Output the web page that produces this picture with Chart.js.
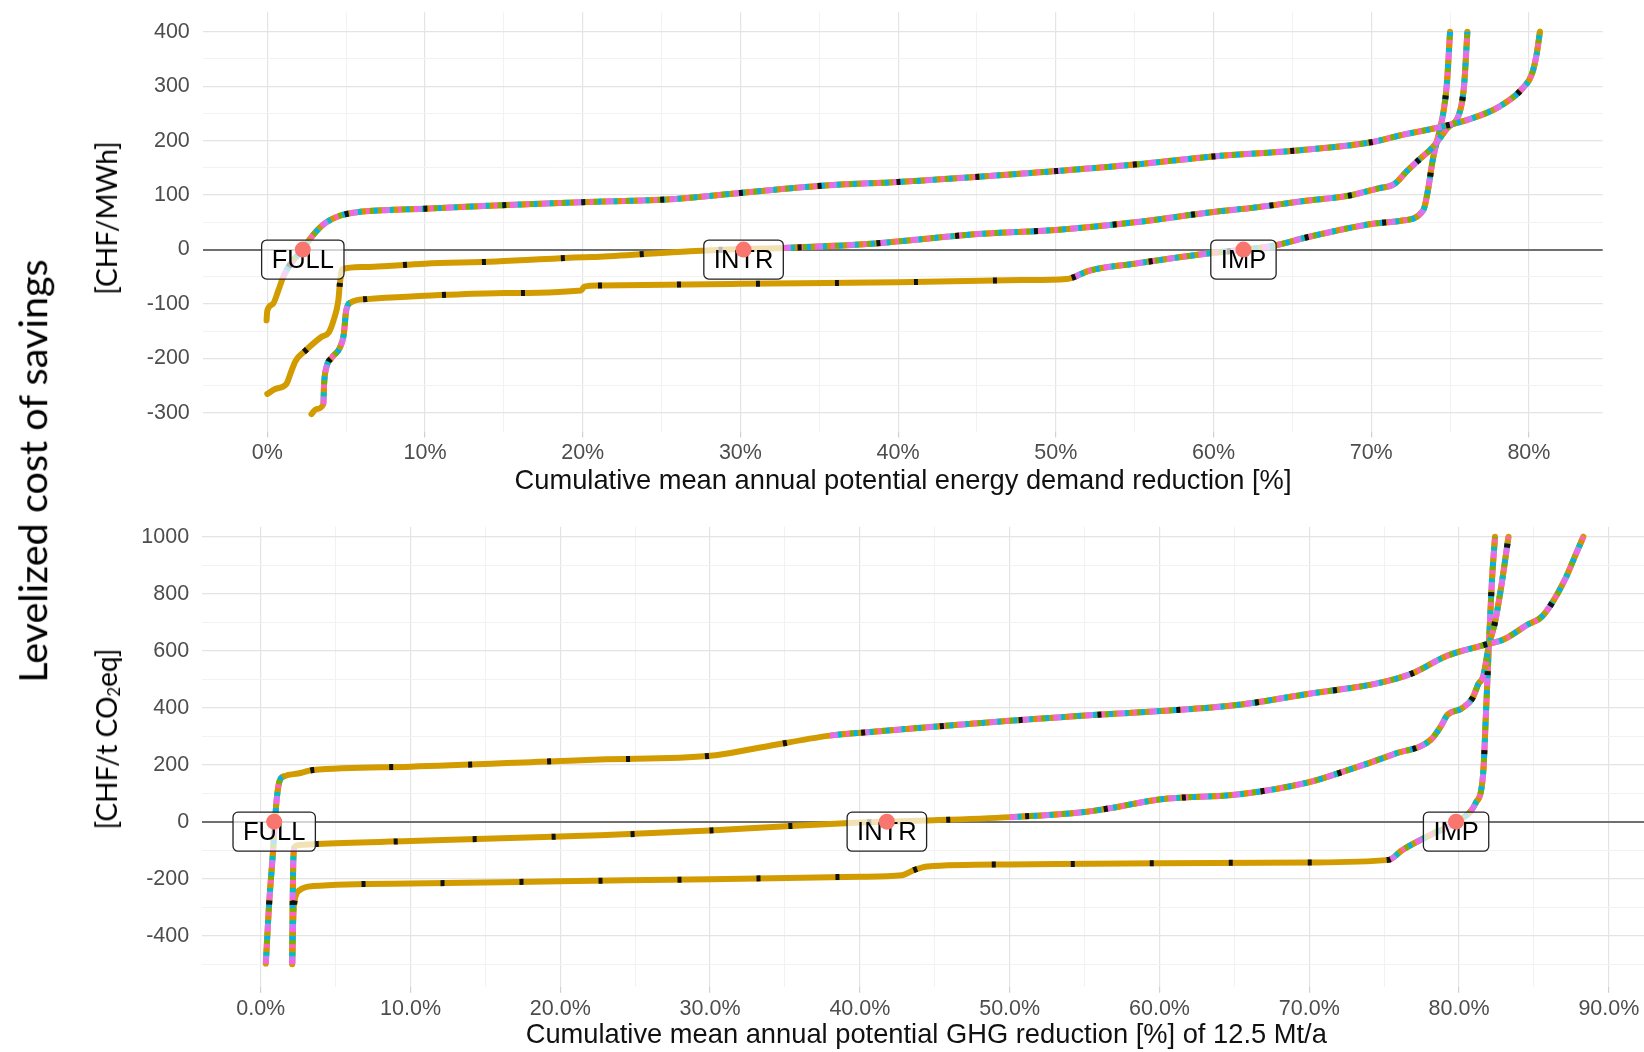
<!DOCTYPE html>
<html lang="en">
<head>
<meta charset="UTF-8">
<title>Levelized cost of savings</title>
<script src="https://cdn.jsdelivr.net/npm/chart.js"></script>
<style>
    html, body { margin: 0; padding: 0; background: #fff; }
    body { width: 1644px; height: 1052px; position: relative; overflow: hidden; }
    canvas { position: absolute; left: 0; }
    #energyChart { top: 0; }
    #ghgChart { top: 500px; }
    .vlabel {
        position: absolute; white-space: nowrap; line-height: 1; color: #000;
        font-family: Lato, "Open Sans", sans-serif;
        transform: translate(-50%, -50%) rotate(-90deg);
    }
    .vlabel sub { font-size: 60%; vertical-align: -0.2em; line-height: 0; }
</style>
</head>
<body>
<canvas id="energyChart" width="1644" height="500"></canvas>
<!-- the lower panel runs past the right edge of the figure, as in the original crop -->
<canvas id="ghgChart" width="1700" height="552"></canvas>
<div class="vlabel" style="left:32px; top:471px; font-size:39.6px;">Levelized cost of savings</div>
<div class="vlabel" style="left:106px; top:218px; font-size:28px;">[CHF/MWh]</div>
<div class="vlabel" style="left:106px; top:739px; font-size:28px;">[CHF/t CO<sub>2</sub>eq]</div>

<script>
// ---- values ----
const scenarioNames = ['FULL', 'INTR', 'IMP'];

// upper panel: x = cumulative energy demand reduction [%], y = CHF/MWh
const energyFullX = [-0.05, 0.0, 0.35, 0.7, 1.0, 1.5, 2.25, 2.8, 3.6, 4.6, 5.8, 7.3, 10, 14.5, 20, 25.9, 30, 35.6, 40, 45.3, 50, 55, 60, 65.3, 70, 71.9, 74.4, 76.3, 78.1, 79.6, 80.2, 80.5, 80.7];
const energyFullY = [-130, -112, -100, -75, -51, -25, 0, 23, 47, 62, 69, 72, 75, 81, 87, 93, 104, 118, 124, 134, 144, 156, 171, 182, 197, 210, 225, 240, 262, 296, 323, 360, 400];
const energyIntrX = [0, 0.5, 1.2, 1.5, 1.8, 2.4, 3.4, 3.9, 4.2, 4.5, 4.6, 4.75, 6, 10, 14.5, 20, 21.1, 26.8, 30, 32.7, 38, 40, 45.3, 50, 55, 60, 62.3, 66, 68.6, 70.4, 71.5, 72.2, 73, 73.9, 74.8, 75.7, 75.9, 76.1];
const energyIntrY = [-265, -256, -247, -225, -204, -186, -161, -152, -130, -94, -63, -36, -32, -26, -22, -14, -13, -3, 1, 3, 10, 15, 29, 36, 50, 69, 76, 90, 99, 112, 121, 142, 164, 188, 222, 262, 305, 400];
const energyImpX = [2.8, 3.1, 3.55, 3.6, 3.75, 4.1, 4.6, 4.85, 5.0, 5.3, 6.3, 10, 14.5, 19.9, 20.1, 21.1, 30, 40, 47.8, 50.7, 51.1, 52.1, 55, 60, 62, 63.8, 66, 70, 71.9, 73.3, 73.6, 73.9, 74.6, 74.8, 75.0];
const energyImpY = [-302, -293, -284, -247, -216, -198, -180, -155, -112, -97, -91, -85, -80, -75, -68, -66, -63, -60, -56, -54, -51, -39, -26, -6, 0, 7, 23, 47, 53, 72, 109, 164, 256, 305, 400];
const energyZeroX = [2.25, 30.2, 61.9];
const energyXTicks = [0, 10, 20, 30, 40, 50, 60, 70, 80];
const energyXLabels = ['0%', '10%', '20%', '30%', '40%', '50%', '60%', '70%', '80%'];
const energyYTicks = [-300, -200, -100, 0, 100, 200, 300, 400];
const energyYLabels = ['-300', '-200', '-100', '0', '100', '200', '300', '400'];

// lower panel: x = cumulative GHG reduction [%], y = CHF/t CO2eq
const ghgFullX = [0.34, 0.56, 0.82, 0.95, 1.07, 1.25, 1.6, 2.5, 3.5, 10, 20, 22.6, 30, 32.9, 38, 40.5, 45.6, 50, 55.8, 60, 65.3, 70, 74.6, 76.9, 79.2, 81.6, 83.0, 84.6, 85.5, 86.2, 87.1, 87.8, 88.3];
const ghgFullY = [-498, -289, -105, 0, 80, 141, 160, 169, 181, 193, 213, 218, 231, 256, 302, 314, 336, 354, 375, 388, 410, 449, 486, 521, 582, 619, 640, 692, 718, 767, 853, 939, 1000];
const ghgIntrX = [2.1, 2.13, 2.17, 2.25, 2.6, 3.8, 10, 20, 22.65, 30, 35.4, 40, 41.8, 44.3, 50, 55, 57, 60, 65.3, 70, 72.3, 75.7, 78.1, 78.8, 79.2, 80.2, 80.9, 81.3, 81.6, 82.0, 82.4, 82.8, 83.3];
const ghgIntrY = [-500, -300, -150, -90, -82, -78, -68, -52, -48, -31, -15, -3, 0, 4, 16, 34, 50, 78, 96, 139, 176, 238, 287, 336, 373, 398, 434, 484, 508, 620, 700, 820, 1000];
const ghgImpX = [2.1, 2.14, 2.2, 2.6, 3.5, 10, 20, 30, 40, 42.8, 43.6, 44.5, 50, 60, 70, 75.3, 76.2, 78.1, 80.0, 81.1, 81.6, 81.8, 82.0, 82.2, 82.4];
const ghgImpY = [-498, -400, -302, -240, -226, -217, -209, -202, -193, -188, -170, -157, -150, -146, -143, -134, -100, -46, 4, 65, 164, 385, 631, 850, 1000];
const ghgZeroX = [0.9, 41.8, 79.8];
const ghgXTicks = [0, 10, 20, 30, 40, 50, 60, 70, 80, 90];
const ghgXLabels = ['0.0%', '10.0%', '20.0%', '30.0%', '40.0%', '50.0%', '60.0%', '70.0%', '80.0%', '90.0%'];
const ghgYTicks = [-400, -200, 0, 200, 400, 600, 800, 1000];
const ghgYLabels = ['-400', '-200', '0', '200', '400', '600', '800', '1000'];

// stretches of each curve where the many-coloured measure dots dominate (the rest is mostly gold)
const energyMixed = [[[0.8, 81]], [[32.5, 77]], [[3.55, 5.3], [51, 76]]];
const ghgMixed = [[[0, 2.4], [33, 89]], [[2.1, 2.25], [48.5, 84]], [[2.1, 2.2], [75.3, 83]]];

const GOLD = '#D29B00';
const dotColors = ['#F564E3', '#B79F00', '#00B0F6', '#7CAE00', '#FF62BC', '#D89000', '#00BFC4', '#C77CFF'];
const DOT = 4;
const TICK_FONT = {family: 'Liberation Sans', size: 21.5};
const TITLE_FONT = {family: 'Liberation Sans', size: 27.3};

// major ticks plus the half-way minor grid lines (ggplot style)
function withMinor(majors, step, min, max) {
    const vals = majors.slice();
    majors.forEach(v => vals.push(v - step / 2));
    vals.push(majors[majors.length - 1] + step / 2);
    return vals.filter(v => v >= min && v <= max).sort((a, b) => a - b);
}

function labelFor(majors, labels, v) {
    const i = majors.indexOf(v);
    return i < 0 ? '' : labels[i];
}

function curveDatasets(xs, ys, mixed) {
    const pts = xs.map((x, i) => ({x: x, y: ys[i]}));
    const inMixed = c => mixed.some(r => c.p0.parsed.x >= r[0] - 1e-6 && c.p1.parsed.x <= r[1] + 1e-6);
    const base = {
        data: pts, showLine: true, pointRadius: 0, borderWidth: 6,
        cubicInterpolationMode: 'monotone', borderJoinStyle: 'round'
    };
    const sets = [Object.assign({}, base, {borderColor: GOLD, borderCapStyle: 'round', order: 3})];
    const period = DOT * dotColors.length;
    dotColors.forEach((col, k) => {
        sets.push(Object.assign({}, base, {
            borderColor: col, borderDash: [DOT, period - DOT], borderDashOffset: DOT * k, order: 2,
            segment: {borderColor: c => inMixed(c) ? col : 'rgba(0,0,0,0)'}
        }));
    });
    sets.push(Object.assign({}, base, {borderColor: '#111', borderDash: [4, 75], borderDashOffset: 20, order: 1}));
    return sets;
}

// boxed scenario labels, drawn just before the red dots so the dots sit on top
const labelBoxes = {
    id: 'labelBoxes',
    beforeDatasetDraw(chart, args) {
        const ds = chart.data.datasets[args.index];
        if (!ds.isMarker) return;
        const ctx = chart.ctx, xs = chart.scales.x, ys = chart.scales.y;
        ctx.save();
        ctx.font = '25.5px "Liberation Sans"';
        ds.data.forEach((p, i) => {
            const px = xs.getPixelForValue(p.x), py = ys.getPixelForValue(p.y);
            const text = ds.names[i];
            const w = ctx.measureText(text).width + 20, h = 39, r = 5;
            const bx = px - w / 2, by = py + 10 - h / 2;
            ctx.beginPath();
            ctx.moveTo(bx + r, by);
            ctx.arcTo(bx + w, by, bx + w, by + h, r);
            ctx.arcTo(bx + w, by + h, bx, by + h, r);
            ctx.arcTo(bx, by + h, bx, by, r);
            ctx.arcTo(bx, by, bx + w, by, r);
            ctx.closePath();
            ctx.fillStyle = 'rgba(255,255,255,0.7)';
            ctx.fill();
            ctx.lineWidth = 1.3;
            ctx.strokeStyle = '#222';
            ctx.stroke();
            ctx.fillStyle = '#000';
            ctx.textAlign = 'center';
            ctx.textBaseline = 'middle';
            ctx.fillText(text, px, by + h / 2 + 1);
        });
        ctx.restore();
    }
};

function makeChart(id, cfg) {
    const datasets = [{
        data: cfg.zeroX.map(x => ({x: x, y: 0})), isMarker: true, names: scenarioNames,
        showLine: false, pointRadius: 8, pointBackgroundColor: '#F8766D', pointBorderWidth: 0, order: 0
    }];
    cfg.curves.forEach((c, i) => datasets.push(...curveDatasets(c[0], c[1], cfg.mixed[i])));

    const xMajor = v => cfg.xTicks.indexOf(v) >= 0;
    const yMajor = v => cfg.yTicks.indexOf(v) >= 0;

    new Chart(document.getElementById(id), {
        type: 'scatter',
        data: {datasets: datasets},
        options: {
            responsive: false,
            animation: false,
            events: [],
            layout: {padding: cfg.padding},
            plugins: {legend: {display: false}, tooltip: {enabled: false}},
            scales: {
                x: {
                    type: 'linear', min: cfg.xRange[0], max: cfg.xRange[1],
                    afterBuildTicks: s => { s.ticks = withMinor(cfg.xTicks, 10, s.min, s.max).map(v => ({value: v})); },
                    afterFit: s => { s.height = cfg.xAxisHeight; s.paddingLeft = 0; s.paddingRight = 0; },
                    border: {display: false},
                    grid: {
                        color: c => xMajor(c.tick.value) ? '#e4e4e4' : '#f2f2f2',
                        lineWidth: c => xMajor(c.tick.value) ? 1.2 : 1,
                        drawTicks: true, tickLength: 6,
                        tickColor: c => xMajor(c.tick.value) ? '#d0d0d0' : 'rgba(0,0,0,0)'
                    },
                    ticks: {
                        autoSkip: false, maxRotation: 0, padding: 3, color: '#4d4d4d', font: TICK_FONT,
                        callback: v => labelFor(cfg.xTicks, cfg.xLabels, v)
                    },
                    title: {
                        display: true, text: cfg.xTitle, color: '#111', font: TITLE_FONT,
                        padding: {top: 0, bottom: cfg.titlePad}
                    }
                },
                y: {
                    type: 'linear', min: cfg.yRange[0], max: cfg.yRange[1],
                    afterBuildTicks: s => { s.ticks = withMinor(cfg.yTicks, cfg.yStep, s.min, s.max).map(v => ({value: v})); },
                    afterFit: s => { s.width = cfg.yAxisWidth; s.paddingTop = 0; s.paddingBottom = 0; },
                    border: {display: false},
                    grid: {
                        drawTicks: false,
                        color: c => c.tick.value === 0 ? '#6f6f6f' : (yMajor(c.tick.value) ? '#e4e4e4' : '#f2f2f2'),
                        lineWidth: c => c.tick.value === 0 ? 2 : (yMajor(c.tick.value) ? 1.2 : 1)
                    },
                    ticks: {
                        padding: cfg.yLabelPad, color: '#4d4d4d', font: TICK_FONT,
                        callback: v => labelFor(cfg.yTicks, cfg.yLabels, v)
                    }
                }
            }
        },
        plugins: [labelBoxes]
    });
}

makeChart('energyChart', {
    curves: [[energyFullX, energyFullY], [energyIntrX, energyIntrY], [energyImpX, energyImpY]],
    mixed: energyMixed,
    zeroX: energyZeroX,
    xTicks: energyXTicks, xLabels: energyXLabels,
    yTicks: energyYTicks, yLabels: energyYLabels, yStep: 100,
    xRange: [-4.06, 84.68], yRange: [-334, 435.5],
    padding: {left: 0, right: 41.3, top: 12.3, bottom: 0},
    xAxisHeight: 68.5, yAxisWidth: 203.3, yLabelPad: 13.5, titlePad: 1.8,
    xTitle: 'Cumulative mean annual potential energy demand reduction [%]'
});

makeChart('ghgChart', {
    curves: [[ghgFullX, ghgFullY], [ghgIntrX, ghgIntrY], [ghgImpX, ghgImpY]],
    mixed: ghgMixed,
    zeroX: ghgZeroX,
    xTicks: ghgXTicks, xLabels: ghgXLabels,
    yTicks: ghgYTicks, yLabels: ghgYLabels, yStep: 200,
    xRange: [-3.94, 92.8], yRange: [-579, 1035],
    padding: {left: 0, right: 49.2, top: 26.7, bottom: 0},
    xAxisHeight: 65.3, yAxisWidth: 201.7, yLabelPad: 12.5, titlePad: 0,
    xTitle: 'Cumulative mean annual potential GHG reduction [%] of 12.5 Mt/a'
});
</script>
</body>
</html>
